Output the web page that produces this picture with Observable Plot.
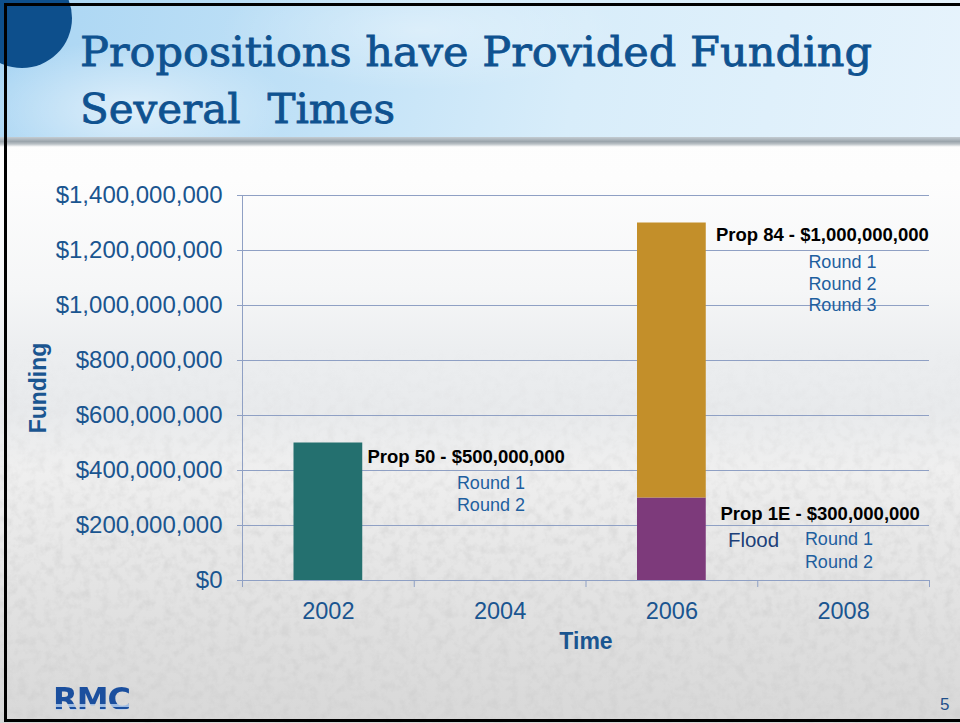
<!DOCTYPE html>
<html>
<head>
<meta charset="utf-8">
<script src="https://cdn.jsdelivr.net/npm/d3@7"></script>
<script src="https://cdn.jsdelivr.net/npm/@observablehq/plot@0.6"></script>
<style>
html,body{margin:0;padding:0;background:#fff;}
body{width:960px;height:723px;overflow:hidden;font-family:"Liberation Sans",Arial,sans-serif;}
#slide{position:relative;width:960px;height:723px;overflow:hidden;
  background:linear-gradient(180deg,#ffffff 0px,#fdfdfd 180px,#f5f6f7 290px,#eceef0 350px,#e8eaec 410px,#efefef 470px,#e6e6e6 560px,#dedede 640px,#d8d8d8 723px);}
#tex{position:absolute;left:0;top:0;}
#header{position:absolute;left:0;top:0;width:960px;height:140px;
  background:
    radial-gradient(ellipse 160px 70px at 130px 110px, rgba(255,255,255,0.55), rgba(255,255,255,0)),
    radial-gradient(ellipse 200px 60px at 420px 30px, rgba(255,255,255,0.35), rgba(255,255,255,0)),
    linear-gradient(100deg,#a9d5f3 0%,#c2e2f7 35%,#d8edfa 60%,#e6f3fc 100%);}
#hshadow{position:absolute;left:0;top:137px;width:960px;height:10px;
  background:linear-gradient(180deg,#c4ccd2 0%,#9ba5ac 45%,#b9c0c5 70%,#ffffff 100%);}
#circle{position:absolute;left:-28px;top:-32px;width:100px;height:100px;border-radius:50%;background:#0d4f8c;}
#title{position:absolute;left:0;top:0;}
#chart{position:absolute;left:0;top:150px;}
#logo{position:absolute;left:53px;top:683px;font:bold 32px "DejaVu Sans",sans-serif;line-height:1;letter-spacing:-1px;
  background:linear-gradient(180deg,#1b4f9e 0%,#1b4f9e 66%,#9dbbe2 66%,#9dbbe2 74%,#1b4f9e 74%,#1b4f9e 80%,#b9cfec 80%,#b9cfec 88%,rgba(0,0,0,0) 88%);
  -webkit-background-clip:text;background-clip:text;color:transparent;}
#page{position:absolute;left:940px;top:695px;font:17px "Liberation Sans",Arial,sans-serif;color:#1f4f8a;}
#border{position:absolute;left:4px;top:3px;width:970px;height:713px;border:3px solid #000;box-sizing:content-box;}
</style>
</head>
<body>
<div id="slide">
  <svg id="tex" width="960" height="723">
    <defs>
      <filter id="noise" x="0" y="0" width="100%" height="100%">
        <feTurbulence type="fractalNoise" baseFrequency="0.11" numOctaves="3" seed="4"/>
        <feColorMatrix type="matrix" values="0 0 0 0 0.62  0 0 0 0 0.62  0 0 0 0 0.62  2.4 0 0 0 -1.0"/>
      </filter>
      <linearGradient id="fade" x1="0" y1="0" x2="0" y2="1">
        <stop offset="0.48" stop-color="#fff" stop-opacity="0"/>
        <stop offset="0.72" stop-color="#fff" stop-opacity="0.7"/>
        <stop offset="1" stop-color="#fff" stop-opacity="1"/>
      </linearGradient>
      <mask id="m"><rect width="960" height="723" fill="url(#fade)"/></mask>
    </defs>
    <rect width="960" height="723" filter="url(#noise)" mask="url(#m)" opacity="0.6"/>
  </svg>
  <div id="header"></div>
  <div id="hshadow"></div>
  <div id="circle"></div>
  <svg id="title" width="960" height="150">
    <text x="80" y="66" textLength="792" lengthAdjust="spacingAndGlyphs" font-family="DejaVu Serif" font-size="41" fill="#0f5290" stroke="#0f5290" stroke-width="0.8">Propositions have Provided Funding</text>
    <text x="80" y="123" textLength="315" lengthAdjust="spacingAndGlyphs" font-family="DejaVu Serif" font-size="41" fill="#0f5290" stroke="#0f5290" stroke-width="0.8" style="white-space:pre">Several  Times</text>
  </svg>
  <div id="chart"></div>
  <div id="logo">RMC</div>
  <div id="page">5</div>
  <div id="border"></div>
</div>
<script>
// ---- data ----
const years = [2002, 2004, 2006, 2008];
const yearBoundaries = [2001, 2003, 2005, 2007, 2009];
const propNames = ["Prop 50", "Prop 1E", "Prop 84"];
const propYears = [2002, 2006, 2006];
const propAmounts = [500000000, 300000000, 1000000000];
const yTicks = [0, 200000000, 400000000, 600000000, 800000000, 1000000000, 1200000000, 1400000000];
const roundsProp50 = ["Round 1", "Round 2"];
const roundsProp84 = ["Round 1", "Round 2", "Round 3"];
const roundsProp1E = ["Round 1", "Round 2"];
const floodLabel = "Flood";
const xLabel = "Time";
const yLabel = "Funding";

// ---- derived table (stacking within a year) ----
const rows = [];
const baseByYear = {};
propNames.forEach((p, i) => {
  const yr = propYears[i];
  const base = baseByYear[yr] || 0;
  rows.push({prop: p, year: yr, amount: propAmounts[i], base, top: base + propAmounts[i]});
  baseByYear[yr] = base + propAmounts[i];
});
const byProp = Object.fromEntries(rows.map(r => [r.prop, r]));
const money = d3.format("$,");

const colors = {"Prop 50": "#24706f", "Prop 1E": "#7d3a7b", "Prop 84": "#c38f2a"};
const grid = "#8fa0c4";
const axisBlue = "#1a5590";
const roundBlue = "#1e5f9f";
const fontFam = "Liberation Sans, Arial, sans-serif";

function label(prop, dx, dy) {
  const r = byProp[prop];
  return Plot.text([r], {x: "year", y: "top", text: d => `${d.prop} - ${money(d.amount)}`,
    dx, dy, textAnchor: "start", fontWeight: "bold", fontSize: 18.5, fill: "#000"});
}
function rounds(prop, list, dx, dy, lh) {
  const r = byProp[prop];
  return Plot.text([r], {x: "year", y: "top", text: () => list.join("\n"),
    dx, dy, textAnchor: "start", fontSize: 18, fill: roundBlue, lineHeight: lh});
}

const chart = Plot.plot({
  width: 960,
  height: 520,
  marginLeft: 242,
  marginRight: 31,
  marginTop: 45,
  marginBottom: 90,
  style: {background: "transparent", fontFamily: fontFam, overflow: "visible"},
  x: {type: "linear", domain: [2001, 2009]},
  y: {domain: [0, 1400000000]},
  marks: [
    Plot.ruleY(yTicks, {stroke: grid, strokeWidth: 1}),
    Plot.ruleX([yearBoundaries[0]], {stroke: grid, strokeWidth: 1}),
    Plot.axisY({ticks: yTicks, tickFormat: money, tickSize: 5, tickPadding: 15, fontSize: 24,
      fill: axisBlue, stroke: grid, label: null}),
    Plot.axisX({ticks: yearBoundaries, tickSize: 7, tickFormat: () => "", stroke: grid, label: null}),
    Plot.axisX({ticks: years, tickSize: 0, tickPadding: 22, tickFormat: d => String(d), fontSize: 23.5,
      fill: axisBlue, label: null}),
    Plot.rectY(rows, {x1: d => d.year - 1, x2: d => d.year + 1, y1: "base", y2: "top",
      fill: d => colors[d.prop], insetLeft: 51.5, insetRight: 51.5}),
    Plot.text([yLabel], {text: d => d, frameAnchor: "left", textAnchor: "middle", rotate: -90, dx: -204,
      fontWeight: "bold", fontSize: 23, fill: axisBlue}),
    Plot.text([xLabel], {text: d => d, frameAnchor: "bottom", lineAnchor: "middle", dy: 61,
      fontWeight: "bold", fontSize: 23, fill: axisBlue}),
    label("Prop 50", 39, 14.5),
    rounds("Prop 50", roundsProp50, 128.5, 49.5, 1.22),
    label("Prop 84", 44, 12.5),
    rounds("Prop 84", roundsProp84, 136.5, 59.5, 1.22),
    label("Prop 1E", 48.5, 16.5),
    rounds("Prop 1E", roundsProp1E, 133, 51.5, 1.25),
    Plot.text([byProp["Prop 1E"]], {x: "year", y: "top", text: () => floodLabel, dx: 56, dy: 42.5,
      textAnchor: "start", fontSize: 20.5, fill: "#1c3f78"})
  ]
});
document.getElementById("chart").appendChild(chart);
</script>
</body>
</html>
